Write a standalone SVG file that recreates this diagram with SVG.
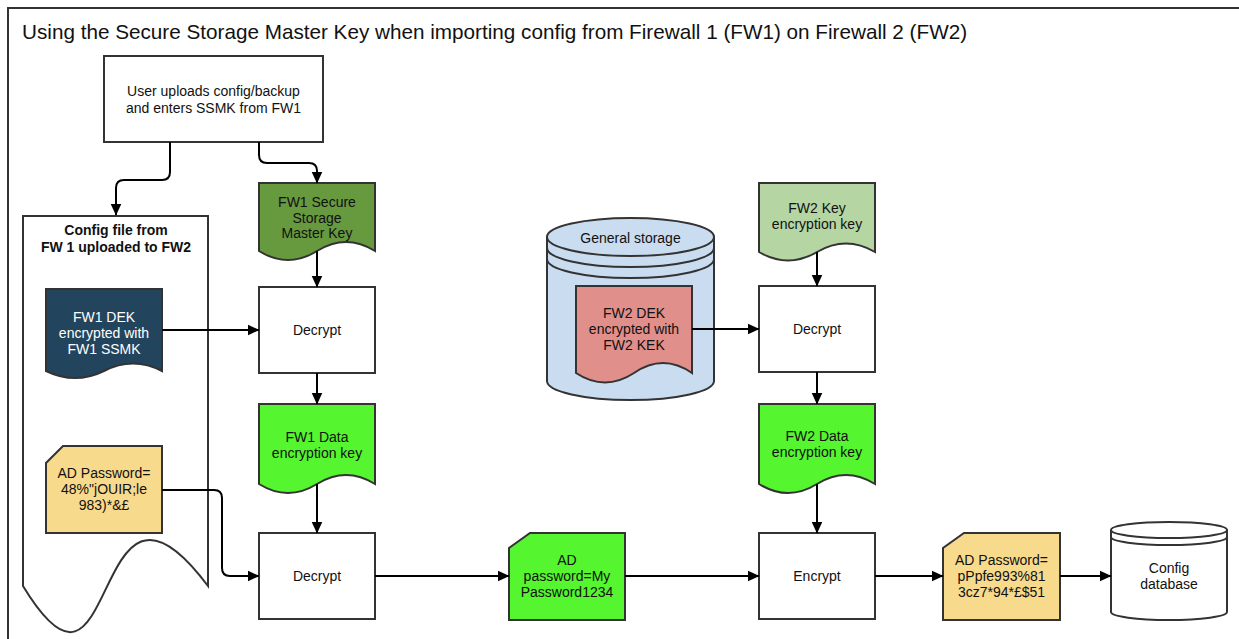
<svg xmlns="http://www.w3.org/2000/svg" width="1239" height="639" viewBox="0 0 1239 639">
<defs>
<style>
.t{font-family:"Liberation Sans",Arial,sans-serif;font-size:14px;fill:#111;text-anchor:middle}
.b{font-weight:bold}
.w{fill:#fff}
.title{font-family:"Liberation Sans",Arial,sans-serif;font-size:20.7px;fill:#111}
.n{stroke:#333;stroke-width:2}
.c{fill:none;stroke:#000;stroke-width:2}
</style>
<marker id="arr" markerWidth="12" markerHeight="12" refX="11.5" refY="6" orient="auto" markerUnits="userSpaceOnUse">
<path d="M0,0.5 L12,6 L0,11.5 Z" fill="#000"/>
</marker>
</defs>
<rect x="0" y="0" width="1239" height="639" fill="#fff"/>
<rect x="8" y="8" width="1260" height="660" fill="none" stroke="#333" stroke-width="2"/>
<text class="title" x="22" y="39">Using the Secure Storage Master Key when importing config from Firewall 1 (FW1) on Firewall 2 (FW2)</text>

<g id="user">
<rect class="n" x="104" y="56" width="219" height="86" fill="#fff"/>
<text class="t" x="213.5" y="96">User uploads config/backup</text>
<text class="t" x="213.5" y="113">and enters SSMK from FW1</text>
</g>

<g id="config-file">
<path class="n" d="M23 216 H208 V586 C89 426 120 746 23 586 Z" fill="#fff"/>
<text class="t b" x="116" y="235">Config file from</text>
<text class="t b" x="116" y="252">FW 1 uploaded to FW2</text>
</g>

<g id="fw1-dek">
<path class="n" d="M46 289 H162 V371 Q133 356 104 371 Q75 385 46 371 Z" fill="#23445D"/>
<text class="t w" x="104" y="322">FW1 DEK</text>
<text class="t w" x="104" y="338">encrypted with</text>
<text class="t w" x="104" y="354">FW1 SSMK</text>
</g>

<g id="ad-pass-1">
<path class="n" d="M63 446 H162 V533 H46 V463 Z" fill="#F8DA8C"/>
<text class="t" x="104" y="478">AD Password=</text>
<text class="t" x="104" y="494">48%"jOUIR;le</text>
<text class="t" x="104" y="510">983)*&amp;£</text>
</g>

<g id="fw1-ssmk">
<path class="n" d="M259 183 H375 V251 Q346 233 317 251 Q288 269 259 251 Z" fill="#67993F"/>
<text class="t" x="317" y="207">FW1 Secure</text>
<text class="t" x="317" y="222.5">Storage</text>
<text class="t" x="317" y="238">Master Key</text>
</g>

<g id="decrypt-1">
<rect class="n" x="259" y="287" width="116" height="86" fill="#fff"/>
<text class="t" x="317" y="335">Decrypt</text>
</g>

<g id="fw1-data-key">
<path class="n" d="M259 404 H375 V484 Q346 466 317 484 Q288 502 259 484 Z" fill="#55F52F"/>
<text class="t" x="317" y="442">FW1 Data</text>
<text class="t" x="317" y="458">encryption key</text>
</g>

<g id="decrypt-2">
<rect class="n" x="259" y="533" width="116" height="86" fill="#fff"/>
<text class="t" x="317" y="581">Decrypt</text>
</g>

<g id="ad-pass-plain">
<path class="n" d="M530 533 H625 V620 H509 V548 Z" fill="#55F52F"/>
<text class="t" x="567" y="565">AD</text>
<text class="t" x="567" y="581">password=My</text>
<text class="t" x="567" y="597">Password1234</text>
</g>

<g id="general-storage">
<path class="n" d="M547 237 A83.5 19 0 0 1 714 237 V381 A83.5 19 0 0 1 547 381 Z" fill="#C9DCF0"/>
<path class="n" fill="none" d="M547 237 A83.5 19 0 0 0 714 237 M547 248 A83.5 19 0 0 0 714 248 M547 259 A83.5 19 0 0 0 714 259"/>
<text class="t" x="630.5" y="243">General storage</text>
</g>

<g id="fw2-dek">
<path class="n" d="M576 286 H692 V373 Q663 353 634 373 Q605 392 576 373 Z" fill="#E08F8A"/>
<text class="t" x="634" y="318">FW2 DEK</text>
<text class="t" x="634" y="334">encrypted with</text>
<text class="t" x="634" y="350">FW2 KEK</text>
</g>

<g id="fw2-kek">
<path class="n" d="M759 183 H875 V252 Q846 235 817 252 Q788 269 759 252 Z" fill="#B5D5A2"/>
<text class="t" x="817" y="213">FW2 Key</text>
<text class="t" x="817" y="229">encryption key</text>
</g>

<g id="decrypt-3">
<rect class="n" x="759" y="286" width="116" height="86" fill="#fff"/>
<text class="t" x="817" y="334">Decrypt</text>
</g>

<g id="fw2-data-key">
<path class="n" d="M759 404 H875 V484 Q846 466 817 484 Q788 502 759 484 Z" fill="#55F52F"/>
<text class="t" x="817" y="441">FW2 Data</text>
<text class="t" x="817" y="457">encryption key</text>
</g>

<g id="encrypt">
<rect class="n" x="759" y="533" width="116" height="86" fill="#fff"/>
<text class="t" x="817" y="581">Encrypt</text>
</g>

<g id="ad-pass-2">
<path class="n" d="M964 533 H1060 V620 H943 V548 Z" fill="#F8DA8C"/>
<text class="t" x="1001.5" y="565">AD Password=</text>
<text class="t" x="1001.5" y="581">pPpfe993%81</text>
<text class="t" x="1001.5" y="597">3cz7*94*£$51</text>
</g>

<g id="config-db">
<path class="n" d="M1111 530 A58 8 0 0 1 1227 530 V612 A58 8 0 0 1 1111 612 Z" fill="#fff"/>
<path class="n" fill="none" d="M1111 530 A58 8 0 0 0 1227 530 M1111 537 A58 8 0 0 0 1227 537"/>
<text class="t" x="1169" y="573">Config</text>
<text class="t" x="1169" y="589">database</text>
</g>

<g id="connectors">
<path class="c" marker-end="url(#arr)" d="M170 142 V172 Q170 180 162 180 H124 Q116 180 116 188 V215"/>
<path class="c" marker-end="url(#arr)" d="M259 142 V155 Q259 163 267 163 H309 Q317 163 317 171 V183"/>
<path class="c" marker-end="url(#arr)" d="M317 251 V287"/>
<path class="c" marker-end="url(#arr)" d="M162 330 H259"/>
<path class="c" marker-end="url(#arr)" d="M317 373 V404"/>
<path class="c" marker-end="url(#arr)" d="M317 484 V533"/>
<path class="c" marker-end="url(#arr)" d="M162 490 H214 Q222 490 222 498 V568 Q222 576 230 576 H259"/>
<path class="c" marker-end="url(#arr)" d="M375 576 H509"/>
<path class="c" marker-end="url(#arr)" d="M625 576 H759"/>
<path class="c" marker-end="url(#arr)" d="M817 252 V286"/>
<path class="c" marker-end="url(#arr)" d="M692 329 H759"/>
<path class="c" marker-end="url(#arr)" d="M817 372 V404"/>
<path class="c" marker-end="url(#arr)" d="M817 484 V533"/>
<path class="c" marker-end="url(#arr)" d="M875 576 H943"/>
<path class="c" marker-end="url(#arr)" d="M1060 576 H1111"/>
</g>
</svg>
